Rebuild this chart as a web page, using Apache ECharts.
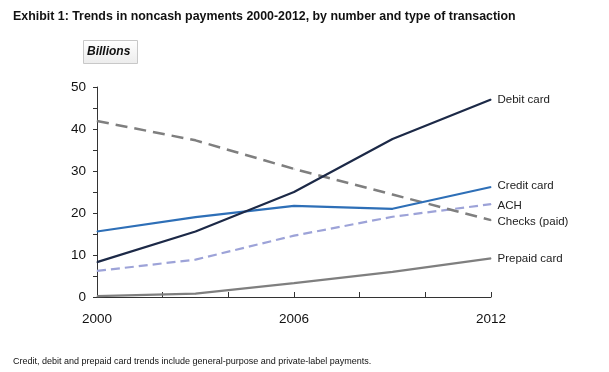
<!DOCTYPE html>
<html><head><meta charset="utf-8">
<script src="https://cdn.jsdelivr.net/npm/echarts@6/dist/echarts.min.js"></script>
<style>html,body{margin:0;padding:0;background:#fff}#c{width:609px;height:372px}</style>
</head><body><div id="c"></div>
<script>
const years = [2000, 2003, 2006, 2009, 2012];
const debit = [8.3, 15.6, 25.0, 37.6, 47.0];
const credit = [15.6, 19.0, 21.7, 21.0, 26.2];
const ach = [6.2, 8.9, 14.6, 19.1, 22.1];
const checks = [41.9, 37.3, 30.5, 24.4, 18.3];
const prepaid = [0.2, 0.8, 3.3, 6.0, 9.2];
const xLabels = [2000, 2006, 2012];
const yLabels = [0, 10, 20, 30, 40, 50];

const font = 'Liberation Sans, Arial, sans-serif';
function mk(name, arr, color, type, width, offY) {
  const data = years.map((y, i) => {
    if (i === years.length - 1) {
      return { value: [y, arr[i]], label: { show: true, position: 'right', distance: 6, offset: [0, offY],
        formatter: name, color: '#222', fontFamily: font, fontSize: 11.5 } };
    }
    return { value: [y, arr[i]], label: { show: false } };
  });
  return {
    name, type: 'line', data, symbol: 'circle', symbolSize: 1, showSymbol: true, silent: true,
    itemStyle: { color },
    lineStyle: { color, width, type },
    animation: false
  };
}
const chart = echarts.init(document.getElementById('c'), null, { renderer: 'canvas' });
chart.setOption({
  backgroundColor: '#fff',
  animation: false,
  grid: { left: 97, right: 118, top: 87, bottom: 75 },
  title: [{
    text: 'Exhibit 1: Trends in noncash payments 2000-2012, by number and type of transaction',
    left: 8, top: 6, textStyle: { fontFamily: font, fontSize: 12.4, fontWeight: 'bold', color: '#111' }
  }, {
    text: 'Credit, debit and prepaid card trends include general-purpose and private-label payments.',
    left: 8, top: 352, textStyle: { fontFamily: font, fontSize: 9, fontWeight: 'normal', color: '#111' }
  }],
  graphic: [{
    type: 'rect', left: 83, top: 40, shape: { width: 54, height: 23 },
    style: { fill: new echarts.graphic.LinearGradient(0, 0, 0, 1, [{ offset: 0, color: '#ffffff' }, { offset: 1, color: '#ececec' }]), stroke: '#c8c8c8', lineWidth: 1 }
  }, {
    type: 'text', left: 87, top: 46,
    style: { text: 'Billions', font: 'italic bold 12px ' + font, fill: '#111' }
  }],
  xAxis: {
    type: 'value', min: 2000, max: 2012, interval: 2,
    axisLine: { lineStyle: { color: '#333', width: 1 } },
    axisTick: { inside: true, length: 5, lineStyle: { color: '#333' } },
    splitLine: { show: false },
    axisLabel: { color: '#111', fontFamily: font, fontSize: 13.5, margin: 15,
      formatter: v => xLabels.includes(v) ? String(v) : '' }
  },
  yAxis: {
    type: 'value', min: 0, max: 50, interval: 5,
    axisLine: { show: true, lineStyle: { color: '#333', width: 1 } },
    axisTick: { show: true, inside: false, length: 4, lineStyle: { color: '#333' } },
    splitLine: { show: false },
    axisLabel: { color: '#111', fontFamily: font, fontSize: 13.5, margin: 11,
      formatter: v => yLabels.includes(v) ? String(v) : '' }
  },
  series: [
    mk('Prepaid card', prepaid, '#7f7f7f', 'solid', 2.2, 0),
    mk('ACH', ach, '#9da3d8', [9, 5], 2.2, 2),
    mk('Checks (paid)', checks, '#7f7f7f', [12, 7], 2.5, 2),
    mk('Credit card', credit, '#2e6fb7', 'solid', 2.2, -1),
    mk('Debit card', debit, '#1c2947', 'solid', 2.2, 0)
  ]
});
</script></body></html>
